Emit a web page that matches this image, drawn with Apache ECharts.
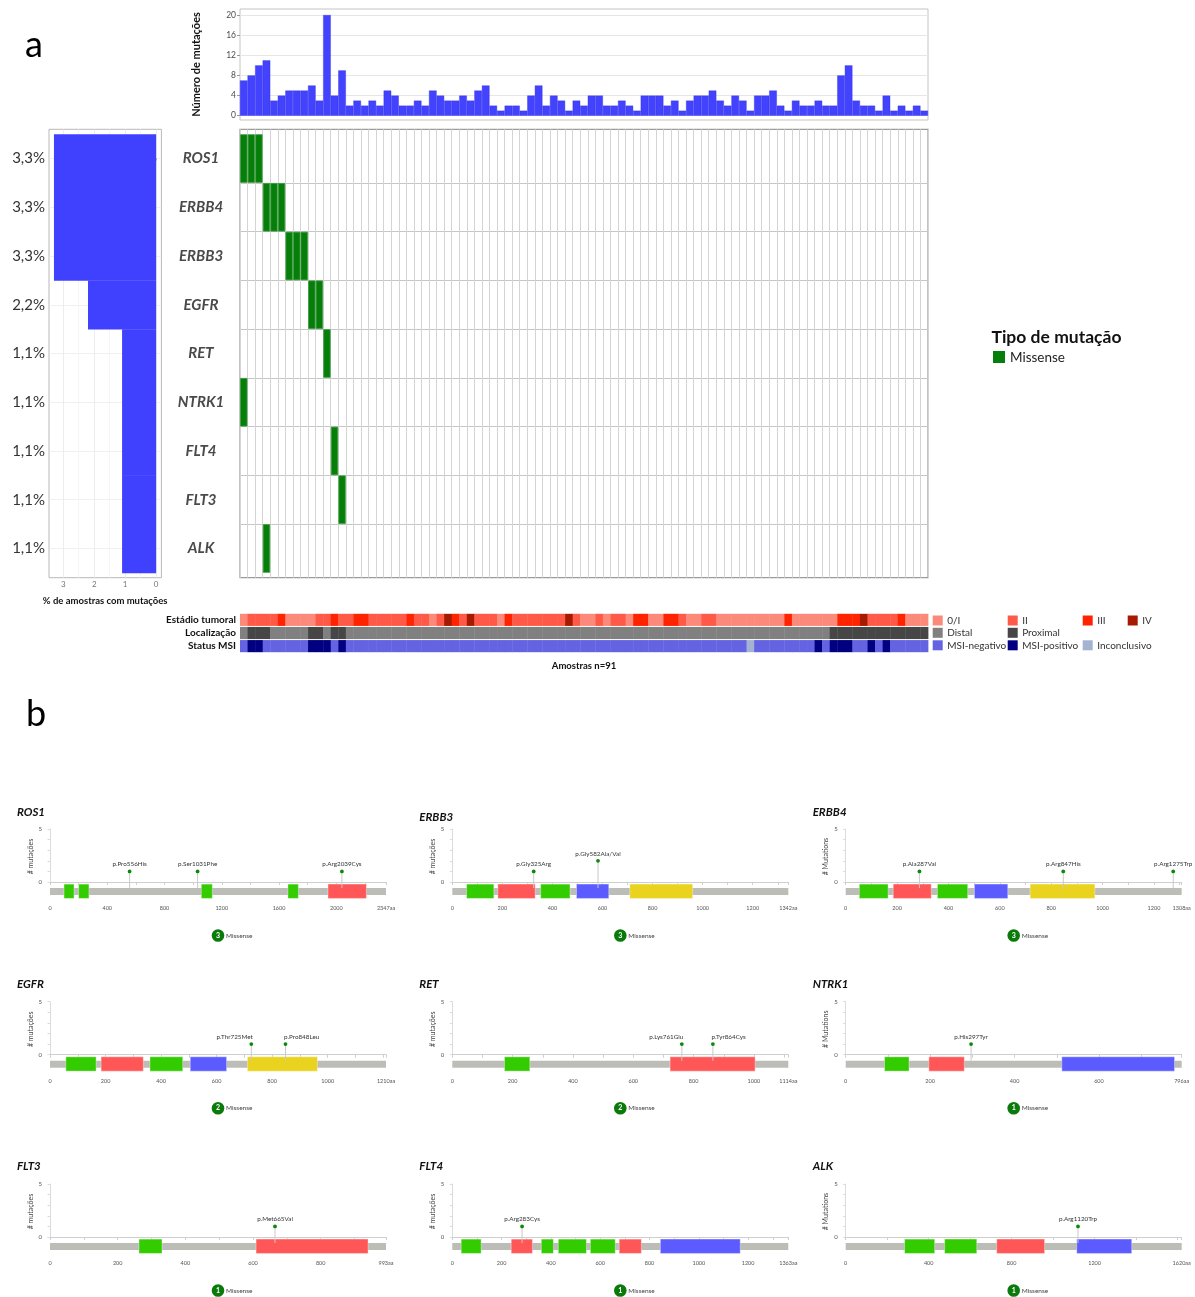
<!DOCTYPE html>
<html><head><meta charset="utf-8">
<script src="https://cdn.jsdelivr.net/npm/echarts@6/dist/echarts.min.js"></script>
<style>html,body{margin:0;padding:0;background:#fff}#c{width:1195px;height:1297px}</style>
</head><body><div id="c"></div><script>
// ---------------- DATA ----------------
const samples = Array.from({length:91}, (_, i) => 'A' + (i + 1));
const mutationCounts = [7,8,10,11,3,4,5,5,5,6, 3,20,4,9,2,3,2,3,2,5, 4,2,2,3,2,5,4,3,3,4,
  3,5,6,2,1,2,2,1,4,6, 2,4,3,1,3,2,4,4,2,2, 3,2,1,4,4,4,2,3,1,3, 4,4,5,3,2,4,3,1,4,4,
  5,2,1,3,2,2,3,2,2,8, 10,3,2,2,1,4,1,2,1,2, 1];
const topTicks = [0,4,8,12,16,20];
const genes = ['ROS1','ERBB4','ERBB3','EGFR','RET','NTRK1','FLT4','FLT3','ALK'];
const genePct = [3.3,3.3,3.3,2.2,1.1,1.1,1.1,1.1,1.1];
const pctTicks = [0,1,2,3];
// [sample index, gene index]
const missense = [[0,0],[1,0],[2,0],[3,1],[4,1],[5,1],[6,2],[7,2],[8,2],[9,3],[10,3],[11,4],[0,5],[12,6],[13,7],[3,8]];
const trackNames = ['Estádio tumoral','Localização','Status MSI'];
const stageNames = ['0/I','II','III','IV'];
const tumorStage = [0,1,1,1,1,2,0,0,0,0, 1,1,2,1,1,2,2,1,1,1, 1,1,2,1,1,0,1,3,2,1, 3,1,1,1,0,2,1,1,1,1,
  1,1,1,3,1,0,0,1,0,1, 1,0,2,2,0,0,2,2,1,0, 0,1,1,0,0,0,0,0,0,0, 0,0,2,0,0,0,0,0,0,2,
  2,2,3,1,1,1,1,2,0,0, 0];
const locNames = ['Distal','Proximal'];
const tumorLocation = [0,1,1,1,0,0,0,0,0,1, 1,0,1,1,0,0,0,0,0,0, 0,0,0,0,0,0,0,0,0,0, 0,0,0,0,0,0,0,0,0,0,
  0,0,0,0,0,0,0,0,0,0, 0,0,0,0,0,0,0,0,0,0, 0,0,0,0,0,0,0,0,0,0, 0,0,0,0,0,0,0,0,1,1,
  1,1,1,1,1,1,1,1,1,1, 1];
const msiNames = ['MSI-negativo','MSI-positivo','Inconclusivo'];
const msiStatus = [0,1,1,0,0,0,0,0,0,1, 1,1,0,1,0,0,0,0,0,0, 0,0,0,0,0,0,0,0,0,0, 0,0,0,0,0,0,0,0,0,0,
  0,0,0,0,0,0,0,0,0,0, 0,0,0,0,0,0,0,0,0,0, 0,0,0,0,0,0,0,2,0,0, 0,0,0,0,0,0,1,0,1,1,
  1,0,0,1,0,1,0,0,0,0, 0];

// lollipop panels
const lolliGenes = ['ROS1','ERBB3','ERBB4','EGFR','RET','NTRK1','FLT3','FLT4','ALK'];
const proteinLength = [2347,1342,1308,1210,1114,796,993,1363,1620];
const yAxisNames = ['# mutações','# mutações','# Mutations','# mutações','# mutações','# Mutations','# mutações','# mutações','# Mutations'];
const xLabelsROS1 = [0,400,800,1200,1600,2000];
const xLabelsERBB3 = [0,200,400,600,800,1000,1200];
const xLabelsERBB4 = [0,200,400,600,800,1000,1200];
const xLabelsEGFR = [0,200,400,600,800,1000];
const xLabelsRET = [0,200,400,600,800,1000];
const xLabelsNTRK1 = [0,200,400,600];
const xLabelsFLT3 = [0,200,400,600,800];
const xLabelsFLT4 = [0,200,400,600,800,1000,1200];
const xLabelsALK = [0,400,800,1200];
const xTickStep = [200,100,100,100,100,100,100,100,200];
const domROS1 = [[98,168,'g'],[200,272,'g'],[1057,1134,'g'],[1662,1735,'g'],[1942,2210,'r']];
const domERBB3 = [[57,166,'g'],[182,331,'r'],[353,470,'g'],[496,625,'b'],[709,960,'y']];
const domERBB4 = [[53,165,'g'],[185,333,'r'],[357,475,'g'],[501,631,'b'],[718,970,'y']];
const domEGFR = [[57,166,'g'],[184,336,'r'],[360,478,'g'],[505,636,'b'],[711,963,'y']];
const domRET = [[173,257,'g'],[722,1004,'r']];
const domNTRK1 = [[92,150,'g'],[197,281,'r'],[512,779,'b']];
const domFLT3 = [[263,331,'g'],[609,940,'r']];
const domFLT4 = [[36,117,'g'],[239,325,'r'],[361,410,'g'],[430,544,'g'],[560,661,'g'],[677,767,'r'],[844,1168,'b']];
const domALK = [[284,429,'g'],[477,632,'g'],[728,959,'r'],[1114,1379,'b']];
// [position, count, label, label anchor]
const mutROS1 = [[556,1,'p.Pro556His','c'],[1031,1,'p.Ser1031Phe','c'],[2039,1,'p.Arg2039Cys','c']];
const mutERBB3 = [[325,1,'p.Gly325Arg','c'],[582,2,'p.Gly582Ala/Val','c']];
const mutERBB4 = [[287,1,'p.Ala287Val','c'],[847,1,'p.Arg847His','c'],[1275,1,'p.Arg1275Trp','c']];
const mutEGFR = [[725,1,'p.Thr725Met','r'],[848,1,'p.Pro848Leu','l']];
const mutRET = [[761,1,'p.Lys761Glu','r'],[864,1,'p.Tyr864Cys','l']];
const mutNTRK1 = [[297,1,'p.His297Tyr','c']];
const mutFLT3 = [[665,1,'p.Met665Val','c']];
const mutFLT4 = [[283,1,'p.Arg283Cys','c']];
const mutALK = [[1120,1,'p.Arg1120Trp','c']];
const lolliDomains = [domROS1,domERBB3,domERBB4,domEGFR,domRET,domNTRK1,domFLT3,domFLT4,domALK];
const lolliMuts = [mutROS1,mutERBB3,mutERBB4,mutEGFR,mutRET,mutNTRK1,mutFLT3,mutFLT4,mutALK];
const lolliXLabels = [xLabelsROS1,xLabelsERBB3,xLabelsERBB4,xLabelsEGFR,xLabelsRET,xLabelsNTRK1,xLabelsFLT3,xLabelsFLT4,xLabelsALK];

// ---------------- STYLE ----------------
const FONT = 'Lato';
const stageColors = ['#fb8a7b','#ff5a47','#ff2300','#a51a00'];
const locColors = ['#808080','#464646'];
const msiColors = ['#6464e2','#000080','#a3b3d1'];
const trackColors = [stageColors, locColors, msiColors];
const domColors = {g:'#33cc00', r:'#ff5757', b:'#5b5bff', y:'#e9d31f'};
const panelX = [50, 452.3, 845.7];
const panelY5 = [829, 1001.7, 1184];
const panelW = 336, unitPx = 10.6;
const titleDy = [-17,-12,-17,-17,-17,-17,-18,-18,-18];

const grids = [], xAxes = [], yAxes = [], series = [], graphics = [];
const rowTicks = [0,1,2,3,4,5,6,7,8];
const rowBounds = [0.5,1.5,2.5,3.5,4.5,5.5,6.5,7.5];

// 0: top mutation count bars
grids.push({left:240, top:9, width:688, height:111, show:true, borderColor:'#c4c4c4', borderWidth:1, outerBoundsMode:'none'});
xAxes.push({gridIndex:0, type:'category', data:samples, axisLine:{show:false}, axisTick:{show:false}, axisLabel:{show:false}, splitLine:{show:false}});
yAxes.push({gridIndex:0, type:'value', min:-0.85, max:21.2,
  axisLine:{show:false}, axisTick:{show:true, length:3, customValues:topTicks, lineStyle:{color:'#999'}},
  axisLabel:{customValues:topTicks, fontSize:8.5, color:'#4d4d4d', margin:4, fontFamily:FONT},
  splitLine:{show:true, lineStyle:{color:'#e6e6e6'}},
  name:'Número de mutações', nameLocation:'middle', nameRotate:90, nameGap:38,
  nameTextStyle:{fontSize:11, fontWeight:'bold', color:'#111', fontFamily:FONT}});
series.push({type:'bar', xAxisIndex:0, yAxisIndex:0, data:mutationCounts, barCategoryGap:'0%', silent:true,
  itemStyle:{color:'#4242ff', borderColor:'#3434dd', borderWidth:0.4}});

// 1: left percent chart
grids.push({left:49, top:129.3, width:112.4, height:448.4, show:true, borderColor:'#b8b8b8', borderWidth:1, outerBoundsMode:'none'});
xAxes.push({gridIndex:1, type:'value', inverse:true, min:-0.17, max:3.46,
  axisLine:{show:false}, axisTick:{show:true, length:2, customValues:pctTicks, lineStyle:{color:'#aaa'}},
  axisLabel:{customValues:pctTicks, fontSize:8, color:'#777', margin:3, fontFamily:FONT},
  splitLine:{show:true, lineStyle:{color:'#e8e8e8', width:0.8}},
  name:'% de amostras com mutações', nameLocation:'middle', nameGap:18,
  nameTextStyle:{fontSize:9.5, fontWeight:'bold', color:'#111', fontFamily:FONT}});
xAxes.push({gridIndex:1, type:'value', inverse:true, min:-0.17, max:3.46, position:'top',
  axisLine:{show:false}, axisTick:{show:false, customValues:[0.5,1.5,2.5]}, axisLabel:{show:false},
  splitLine:{show:true, lineStyle:{color:'#f2f2f2', width:0.8}}});
yAxes.push({gridIndex:1, type:'value', inverse:true, min:-0.6, max:8.6,
  axisLine:{show:false}, axisTick:{show:true, length:3, customValues:rowTicks, lineStyle:{color:'#999'}},
  axisLabel:{customValues:rowTicks, formatter:v => genePct[v].toFixed(1).replace('.', ',') + '%',
    fontSize:15, color:'#333', margin:4, fontFamily:FONT},
  splitLine:{show:true, lineStyle:{color:'#ececec', width:0.8}}});
series.push({type:'custom', xAxisIndex:2, yAxisIndex:1, silent:true,
  data: genePct.map((v, i) => [v, i]),
  renderItem(params, api) {
    const v = api.value(0), i = api.value(1);
    const a = api.coord([0, i - 0.5]), b = api.coord([v, i + 0.5]);
    return {type:'rect', shape:{x:Math.min(a[0], b[0]), y:Math.min(a[1], b[1]), width:Math.abs(a[0]-b[0]), height:Math.abs(a[1]-b[1]) + 0.4},
      style:{fill:'#4040ff'}};
  }});

// 2: oncoprint
grids.push({left:240, top:129.3, width:688, height:448.4, show:true, borderColor:'#9c9c9c', borderWidth:1.2, outerBoundsMode:'none'});
xAxes.push({gridIndex:2, type:'category', data:samples, axisLine:{show:false}, axisTick:{show:false}, axisLabel:{show:false},
  splitLine:{show:true, interval:0, lineStyle:{color:'#d4d4d4', width:1}}});
yAxes.push({gridIndex:2, type:'value', inverse:true, min:-0.6, max:8.6,
  axisLine:{show:false}, axisTick:{show:false, customValues:rowTicks},
  axisLabel:{customValues:rowTicks, formatter:v => genes[v], align:'center', margin:39,
    fontSize:15, fontWeight:'bold', fontStyle:'italic', color:'#4a4a4a', fontFamily:FONT},
  splitLine:{show:false}});
// row boundary lines
yAxes.push({gridIndex:2, type:'value', inverse:true, min:-0.6, max:8.6, position:'right',
  axisLine:{show:false}, axisTick:{show:false, customValues:rowBounds}, axisLabel:{show:false},
  splitLine:{show:true, lineStyle:{color:'#c6c6c6', width:1.2}}});
series.push({type:'custom', name:'Missense', xAxisIndex:3, yAxisIndex:2, silent:true, data:missense,
  renderItem(params, api) {
    const c = api.coord([api.value(0), api.value(1)]), s = api.size([1, 1]);
    return {type:'rect', shape:{x:c[0]-s[0]/2+0.5, y:c[1]-s[1]/2+0.5, width:s[0]-1, height:s[1]-1},
      style:{fill:'#057f0a', stroke:'#3f9a3f', lineWidth:0.8}};
  }});

// 3: annotation tracks
grids.push({left:240, top:613.3, width:688, height:39.4, outerBoundsMode:'none'});
xAxes.push({gridIndex:3, type:'category', data:samples, axisLine:{show:false}, axisTick:{show:false}, axisLabel:{show:false},
  name:'Amostras n=91', nameLocation:'middle', nameGap:8,
  nameTextStyle:{fontSize:9.5, fontWeight:'bold', color:'#111', fontFamily:FONT}});
yAxes.push({gridIndex:3, type:'category', data:trackNames, inverse:true,
  axisLine:{show:false}, axisTick:{show:false},
  axisLabel:{fontSize:10, fontWeight:'bold', color:'#111', margin:4, fontFamily:FONT}});
const trackData = [];
[tumorStage, tumorLocation, msiStatus].forEach((arr, t) => arr.forEach((v, j) => trackData.push([j, t, v])));
series.push({type:'custom', xAxisIndex:4, yAxisIndex:4, silent:true, data:trackData,
  renderItem(params, api) {
    const j = api.value(0), t = api.value(1), v = api.value(2);
    const c = api.coord([j, t]), s = api.size([1, 1]);
    return {type:'rect', shape:{x:c[0]-s[0]/2, y:c[1]-s[1]/2+0.5, width:s[0]+0.4, height:s[1]-1},
      style:{fill:trackColors[t][v]}};
  }});

// annotation legend
function legendItem(x, y, color, label) {
  graphics.push({type:'rect', shape:{x:x, y:y-5, width:10, height:10}, style:{fill:color}});
  graphics.push({type:'text', style:{text:label, x:x+14.5, y:y, font:'10px ' + FONT, fill:'#333',
    textAlign:'left', textVerticalAlign:'middle', align:'left', verticalAlign:'middle'}});
}
const legX = [932.7, 1007.7, 1082.7, 1127.7];
stageNames.forEach((n, k) => legendItem(legX[k], 620.5, stageColors[k], n));
locNames.forEach((n, k) => legendItem(legX[k], 632.8, locColors[k], n));
msiNames.forEach((n, k) => legendItem(legX[k], 645.3, msiColors[k], n));

// mutation type legend
graphics.push({type:'text', style:{text:'Tipo de mutação', x:991.5, y:337.5, font:'bold 17.5px ' + FONT, fill:'#111',
  textAlign:'left', textVerticalAlign:'middle', align:'left', verticalAlign:'middle'}});
graphics.push({type:'rect', shape:{x:993, y:351, width:12, height:12}, style:{fill:'#057f0a'}});
graphics.push({type:'text', style:{text:'Missense', x:1010, y:357.5, font:'13.5px ' + FONT, fill:'#222',
  textAlign:'left', textVerticalAlign:'middle', align:'left', verticalAlign:'middle'}});

// panel letters
graphics.push({type:'text', style:{text:'a', x:25, y:45, font:'36px ' + FONT, fill:'#000', textAlign:'left', textVerticalAlign:'middle', align:'left', verticalAlign:'middle'}});
graphics.push({type:'text', style:{text:'b', x:26, y:714, font:'36px ' + FONT, fill:'#000', textAlign:'left', textVerticalAlign:'middle', align:'left', verticalAlign:'middle'}});

// 4..12: lollipop panels
lolliGenes.forEach((gene, k) => {
  const col = k % 3, row = Math.floor(k / 3);
  const x0 = panelX[col], y5 = panelY5[row];
  const len = proteinLength[k];
  const gi = grids.length;
  grids.push({left:x0, top:y5, width:panelW, height:5.2 * unitPx, outerBoundsMode:'none'});
  const ticks = [];
  for (let v = 0; v < len; v += xTickStep[k]) ticks.push(v);
  ticks.push(len);
  const labs = lolliXLabels[k].concat([len]);
  const xi = xAxes.length, yi = yAxes.length;
  xAxes.push({gridIndex:gi, type:'value', min:0, max:len, offset:18.5,
    axisLine:{show:true, lineStyle:{color:'#cfcfcf', width:1}},
    axisTick:{show:true, length:3, customValues:ticks, lineStyle:{color:'#cfcfcf'}},
    axisLabel:{customValues:labs, formatter:v => v === len ? len + 'aa' : String(v), fontSize:5.5, color:'#555', margin:3, fontFamily:FONT},
    splitLine:{show:false}});
  yAxes.push({gridIndex:gi, type:'value', min:-0.2, max:5, offset:5,
    axisLine:{show:true, lineStyle:{color:'#dcdcdc', width:1}},
    axisTick:{show:true, length:2.5, customValues:[0,1,2,3,4,5], lineStyle:{color:'#dcdcdc'}},
    axisLabel:{customValues:[0,5], fontSize:6, color:'#555', margin:3, fontFamily:FONT},
    splitLine:{show:false},
    name:yAxisNames[k], nameLocation:'middle', nameRotate:90, nameGap:11,
    nameTextStyle:{fontSize:7, color:'#444', fontFamily:FONT}});
  // backbone
  series.push({type:'custom', xAxisIndex:xi, yAxisIndex:yi, silent:true, clip:false, data:[[0, len]],
    renderItem(params, api) {
      const a = api.coord([api.value(0), -0.57]), b = api.coord([api.value(1), -1.23]);
      return {type:'rect', shape:{x:a[0], y:a[1], width:b[0]-a[0], height:b[1]-a[1]}, style:{fill:'#bdbdb8'}};
    }});
  // domains
  series.push({type:'custom', xAxisIndex:xi, yAxisIndex:yi, silent:true, clip:false,
    data:lolliDomains[k].map(d => [d[0], d[1]]),
    renderItem(params, api) {
      const d = lolliDomains[k][params.dataIndex];
      const a = api.coord([api.value(0), -0.2]), b = api.coord([api.value(1), -1.55]);
      return {type:'rect', shape:{x:a[0], y:a[1], width:b[0]-a[0], height:b[1]-a[1]},
        style:{fill:domColors[d[2]], stroke:'rgba(255,255,255,0.6)', lineWidth:0.6}};
    }});
  // lollipops
  series.push({type:'custom', xAxisIndex:xi, yAxisIndex:yi, silent:true, clip:false,
    data:lolliMuts[k].map(m => [m[0], m[1]]),
    renderItem(params, api) {
      const m = lolliMuts[k][params.dataIndex];
      const base = api.coord([api.value(0), -0.57]), head = api.coord([api.value(0), api.value(1)]);
      const al = m[3] === 'r' ? 'right' : (m[3] === 'l' ? 'left' : 'center');
      const tx = head[0] + (m[3] === 'r' ? 1.5 : (m[3] === 'l' ? -1.5 : 0));
      return {type:'group', children:[
        {type:'line', shape:{x1:base[0], y1:base[1], x2:head[0], y2:head[1]}, style:{stroke:'#c9c9c9', lineWidth:1}},
        {type:'circle', shape:{cx:head[0], cy:head[1], r:1.9}, style:{fill:'#0a8a0a'}},
        {type:'text', style:{text:m[2], x:tx, y:head[1]-4, font:'6.3px ' + FONT, fill:'#333',
          textAlign:al, textVerticalAlign:'bottom', align:al, verticalAlign:'bottom'}}
      ]};
    }});
  // title
  graphics.push({type:'text', style:{text:gene, x:x0-33, y:y5+titleDy[k], font:'italic bold 11.5px ' + FONT, fill:'#111',
    textAlign:'left', textVerticalAlign:'middle', align:'left', verticalAlign:'middle'}});
  // missense legend
  const total = lolliMuts[k].reduce((s, m) => s + m[1], 0);
  const cx = x0 + 168, cy = y5 + 106.5;
  graphics.push({type:'circle', shape:{cx:cx, cy:cy, r:6.3}, style:{fill:'#0a7a0a'}});
  graphics.push({type:'text', style:{text:String(total), x:cx, y:cy, font:'bold 7px ' + FONT, fill:'#fff',
    textAlign:'center', textVerticalAlign:'middle', align:'center', verticalAlign:'middle'}});
  graphics.push({type:'text', style:{text:'Missense', x:cx+8, y:cy, font:'6.5px ' + FONT, fill:'#444',
    textAlign:'left', textVerticalAlign:'middle', align:'left', verticalAlign:'middle'}});
});

const chart = echarts.init(document.getElementById('c'), null, {renderer:'canvas', width:1195, height:1297});
chart.setOption({
  animation:false,
  backgroundColor:'#ffffff',
  textStyle:{fontFamily:FONT},
  grid:grids, xAxis:xAxes, yAxis:yAxes, series:series,
  graphic:{elements:graphics}
});
</script></body></html>
